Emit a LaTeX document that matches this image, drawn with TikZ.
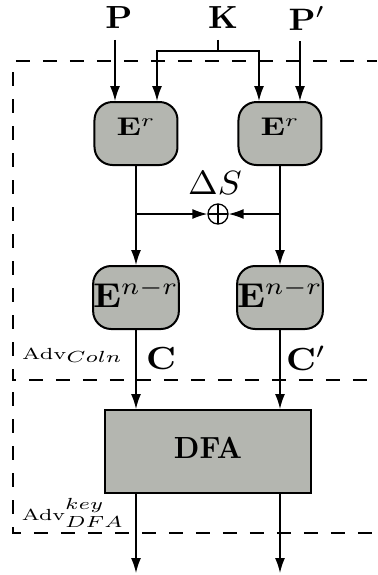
\documentclass[tikz,border=0pt]{standalone}
\usetikzlibrary{positioning}
\usetikzlibrary{arrows.meta}
\definecolor{boxgray}{RGB}{180,182,176}

\begin{document}
\begin{tikzpicture}[x=0.5pt, y=-0.5pt,
		arr/.style={black, line width=0.7pt, -{Latex[length=7.5pt, width=5pt]}},
		dashline/.style={black, line width=0.9pt, dash pattern=on 7pt off 6.5pt},
		ebox/.style={draw, line width=1pt, fill=boxgray, rounded corners=9pt, inner sep=0pt,
			minimum width=41.5pt, minimum height=31.5pt},
		biglbl/.style={inner sep=1pt, outer sep=4.5pt},
		advlbl/.style={inner sep=0pt}]
				\useasboundingbox (0,0) rectangle (377,575);
				\node[biglbl] (p)  at (119,18) {\scalebox{1.72}[1.6]{$\mathbf{P}$}};
				\node[biglbl] (k)  at (223,18) {\scalebox{1.65}[1.6]{$\mathbf{K}$}};
				\node[biglbl] (pp) at (307,18.5) {\scalebox{1.72}[1.55]{$\mathbf{P}'$}};
				\node[ebox, text depth=6.9pt] (el) at (136,133.5) {\scalebox{1.62}[1.28]{$\mathbf{E}^r$}};
				\node[ebox, text depth=6.9pt] (er) at (280,133.5) {\scalebox{1.62}[1.28]{$\mathbf{E}^r$}};
				\node[ebox, text depth=4pt] (enl) at (136,297.5) {\scalebox{1.85}[1.72]{$\mathbf{E}^{n-r}$}};
				\node[ebox, text depth=4pt] (enr) at (280,297.5) {\scalebox{1.85}[1.72]{$\mathbf{E}^{n-r}$}};
				\node[circle, draw, line width=0.65pt, minimum size=10pt, inner sep=0pt,
					path picture={\draw[line width=0.65pt] (path picture bounding box.north) -- (path picture bounding box.south)
						(path picture bounding box.west) -- (path picture bounding box.east);}] (xo) at (218,214) {};
				\node[biglbl] (ds) at (215,183.5) {\scalebox{1.78}[1.68]{$\Delta S$}};
				\node[biglbl] (cl) at (161,359) {\scalebox{1.8}[1.6]{$\mathbf{C}$}};
				\node[biglbl] (cr) at (306,358) {\scalebox{1.8}[1.6]{$\mathbf{C}'$}};
				\node[draw, line width=1pt, fill=boxgray, minimum width=103pt, minimum height=41.5pt,
					text depth=3.7pt] (dfa) at (208,451.5) {\scalebox{1.45}[1.53]{\textbf{DFA}}};
				\node[advlbl] (advc) at (72.5,355) {\scalebox{1.55}[1.15]{$\mbox{\scriptsize Adv}_{Coln}$}};
				\node[advlbl] (advd) at (73,513) {\scalebox{1.52}[1.15]{$\mbox{\scriptsize Adv}^{key}_{DFA}$}};
				\coordinate (kbar) at (218,51);
				\coordinate (outl) at (136,573);
				\coordinate (outr) at (280,573);
				\draw[dashline] (16,61) -- (377,61);
				\draw[dashline] (13,72) -- (13,380) -- (377,380);
				\draw[dashline] (13,392) -- (13,533) -- (377,533);
				\draw[arr] ([xshift=-2pt]p.south) -- ([xshift=-10.5pt]el.north);
				\draw[arr] ([xshift=-3.5pt]pp.south) -- ([xshift=-3.5pt]pp.south |- er.north);
				\draw[black, line width=0.7pt] ([xshift=-2.5pt]k.south) -- (kbar);
				\draw[arr] (kbar) -| ([xshift=10.5pt]el.north);
				\draw[arr] (kbar) -| ([xshift=-10.5pt]er.north);
				\draw[arr] (el) -- (enl);
				\draw[arr] (er) -- (enr);
				\draw[arr] (xo -| el) -- (xo);
				\draw[arr] (xo -| er) -- (xo);
				\draw[arr] (enl) -- (enl |- dfa.north);
				\draw[arr] (enr) -- (enr |- dfa.north);
				\draw[arr] (dfa.south -| enl) -- (outl);
				\draw[arr] (dfa.south -| enr) -- (outr);
			\end{tikzpicture}
\end{document}
